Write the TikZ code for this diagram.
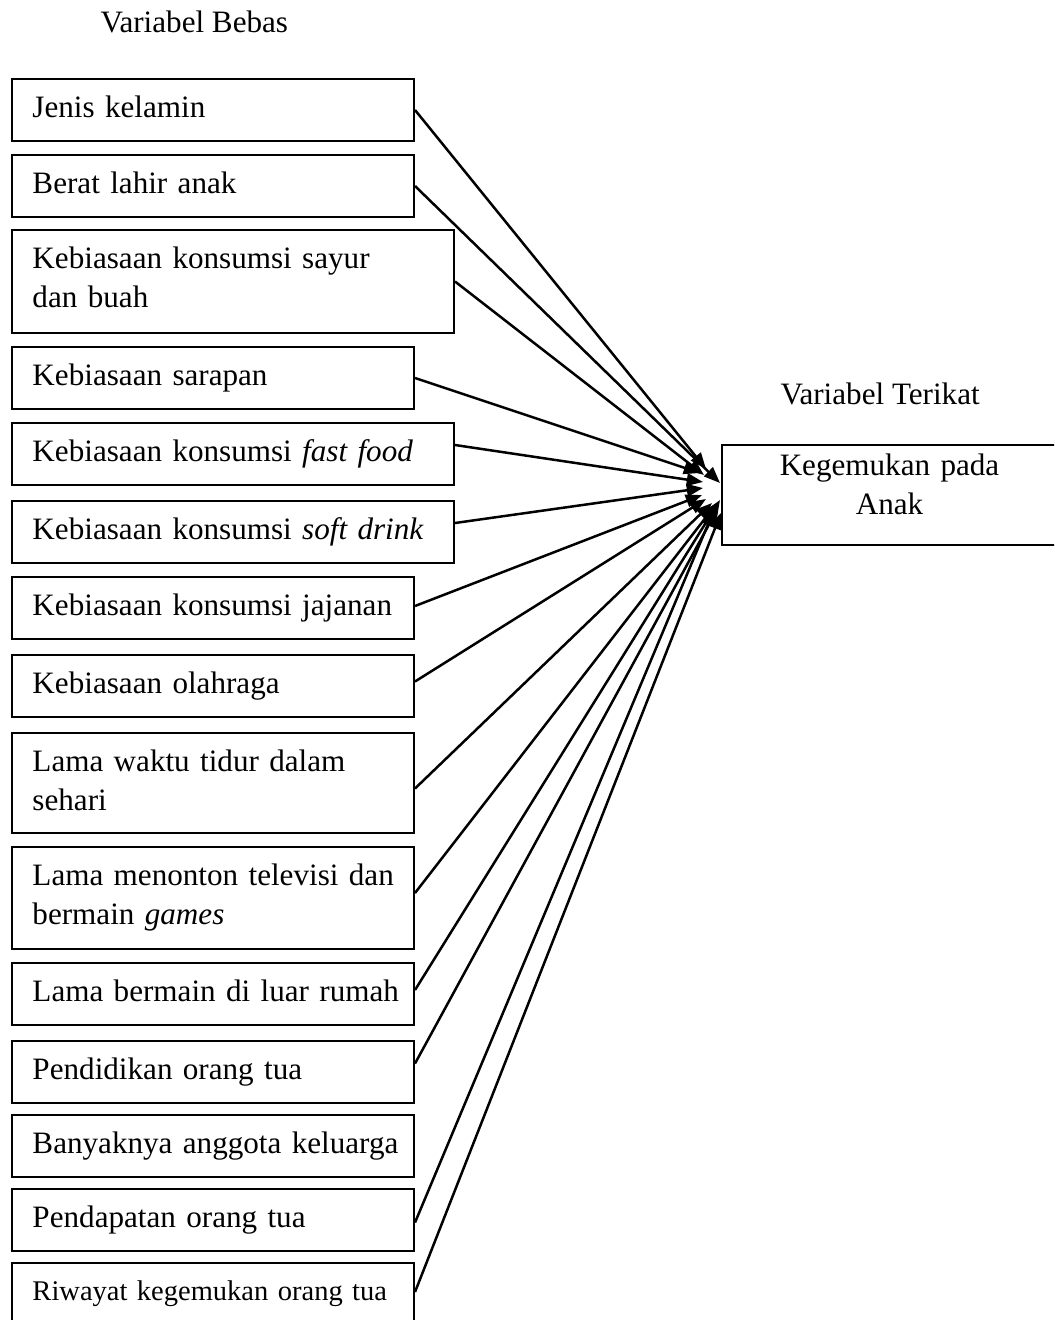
\documentclass[tikz,border=0pt]{standalone}
\usepackage{fontspec}
\setmainfont{Liberation Serif}
\usetikzlibrary{arrows.meta,calc}
\tikzset{
  box/.style={draw, line width=0.8pt, inner sep=0pt, anchor=north west, minimum width=160.8pt, minimum height=24.8pt},
  widebox/.style={box, minimum width=176.8pt},
  lbl/.style={anchor=base west, inner sep=0pt, text width=220pt, align=left},
  ttl/.style={anchor=base west, inner sep=0pt},
  conn/.style={line width=1pt, -{Triangle[length=6.5pt,width=5pt]}}
}
\begin{document}
\begin{tikzpicture}[x=0.4pt, y=-0.4pt, font=\fontsize{12.45pt}{15.6pt}\selectfont]
\useasboundingbox (0,0) rectangle (1054,1320);
\clip (0,0) rectangle (1054,1320);

\node[ttl] (tb) at (100,32) {Variabel Bebas};
\node[ttl] (tt) at (780,404) {Variabel Terikat};

% left boxes
\node[box] (b1) at (11,78) {};
\node[lbl] at (32,117) {Jenis kelamin};
\node[box] (b2) at (11,154) {};
\node[lbl] at (32,193) {Berat lahir anak};
\node[widebox, minimum height=41.2pt] (b3) at (11,229) {};
\node[lbl] at (32,268) {Kebiasaan konsumsi sayur\\dan buah};
\node[box] (b4) at (11,346) {};
\node[lbl] at (32,385) {Kebiasaan sarapan};
\node[widebox] (b5) at (11,422) {};
\node[lbl] at (32,461) {Kebiasaan konsumsi \textit{fast food}};
\node[widebox] (b6) at (11,500) {};
\node[lbl] at (32,539) {Kebiasaan konsumsi \textit{soft drink}};
\node[box] (b7) at (11,576) {};
\node[lbl] at (32,615) {Kebiasaan konsumsi jajanan};
\node[box] (b8) at (11,654) {};
\node[lbl] at (32,693) {Kebiasaan olahraga};
\node[box, minimum height=40pt] (b9) at (11,732) {};
\node[lbl] at (32,771) {Lama waktu tidur dalam\\sehari};
\node[box, minimum height=40.8pt] (b10) at (11,846) {};
\node[lbl] at (32,885) {Lama menonton televisi dan\\bermain \textit{games}};
\node[box] (b11) at (11,962) {};
\node[lbl] at (32,1001) {Lama bermain di luar rumah};
\node[box] (b12) at (11,1040) {};
\node[lbl] at (32,1079) {Pendidikan orang tua};
\node[box] (b13) at (11,1114) {};
\node[lbl] at (32,1153) {Banyaknya anggota keluarga};
\node[box] (b14) at (11,1188) {};
\node[lbl] at (32,1227) {Pendapatan orang tua};
\node[box, minimum height=26.4pt] (b15) at (11,1262) {};
\node[lbl, font=\fontsize{11.4pt}{14pt}\selectfont] at (32,1300) {Riwayat kegemukan orang tua};

% target
\node[box, minimum width=134.8pt, minimum height=40pt] (tgt) at (721,444) {};
\node[anchor=base, inner sep=0pt, text width=140pt, align=center] at (889.5,475) {Kegemukan pada\\Anak};

% arrow ends
\coordinate (e1) at ($(tgt.west)+(-15,-26)$);
\coordinate (e2) at ($(tgt.west)+(-1,-12)$);
\coordinate (e3) at ($(tgt.west)+(-17,-20)$);
\coordinate (e4) at ($(tgt.west)+(-21,-22)$);
\coordinate (e5) at ($(tgt.west)+(-18,-13)$);
\coordinate (e6) at ($(tgt.west)+(-18,-7)$);
\coordinate (e7) at ($(tgt.west)+(-19,0)$);
\coordinate (e8) at ($(tgt.west)+(-15,4)$);
\coordinate (e9) at ($(tgt.west)+(-9,8)$);
\coordinate (e10) at ($(tgt.west)+(-4,8)$);
\coordinate (e11) at ($(tgt.west)+(-1,5)$);
\coordinate (e12) at ($(tgt.west)+(-3,13)$);
\coordinate (e14) at ($(tgt.west)+(-7,15)$);
\coordinate (e15) at ($(tgt.west)+(0,18)$);

\draw[conn] (b1.east) -- (e1);
\draw[conn] (b2.east) -- (e2);
\draw[conn] (b3.east) -- (e3);
\draw[conn] (b4.east) -- (e4);
\draw[conn] ([yshift=3.6pt]b5.east) -- (e5);
\draw[conn] ([yshift=3.6pt]b6.east) -- (e6);
\draw[conn] ([yshift=0.8pt]b7.east) -- (e7);
\draw[conn] ([yshift=1.8pt]b8.east) -- (e8);
\draw[conn] ([yshift=-2.2pt]b9.east) -- (e9);
\draw[conn] ([yshift=2pt]b10.east) -- (e10);
\draw[conn] ([yshift=1.6pt]b11.east) -- (e11);
\draw[conn] ([yshift=3.4pt]b12.east) -- (e12);
\draw[conn] ([yshift=-1pt]b14.east) -- (e14);
\draw[conn] ([yshift=1.6pt]b15.east) -- (e15);
\end{tikzpicture}
\end{document}
